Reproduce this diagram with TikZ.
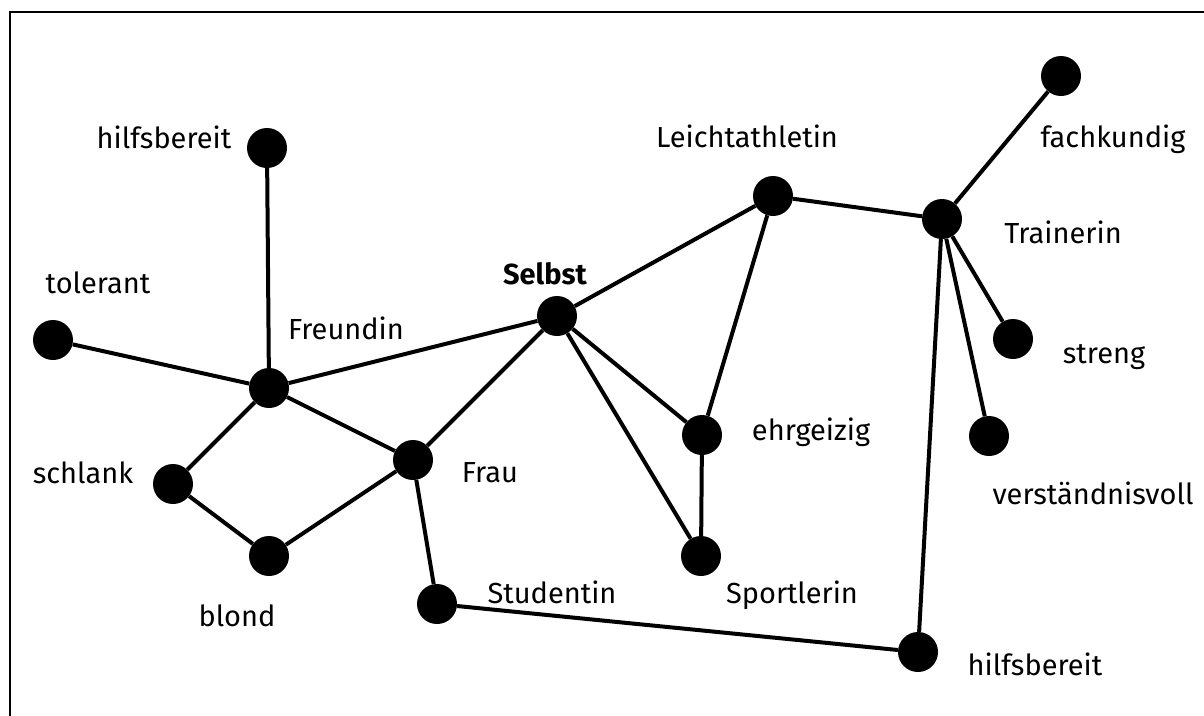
\documentclass[tikz,border=0pt]{standalone}
\usepackage{fontspec}
\setmainfont{Fira Sans}
\usetikzlibrary{positioning}

\begin{document}
\begin{tikzpicture}[
  x=1pt, y=-1pt,
  dot/.style={circle, fill=black, inner sep=0pt, minimum size=40pt},
  word/.style={anchor=base, inner sep=0pt, font=\fontsize{29}{34}\selectfont},
  edge/.style={line width=4pt}
]
\useasboundingbox (0,0) rectangle (1204,715);
\clip (0,0) rectangle (1204,715);
\draw[line width=2pt] (10,12) rectangle (1230,740);

% the points
\node[dot] (hilfsA)     at (267,148) {};
\node[dot] (tolerant)   at (53,340)  {};
\node[dot] (freundin)   at (269,388) {};
\node[dot] (schlank)    at (173,484) {};
\node[dot] (blond)      at (269,556) {};
\node[dot] (frau)       at (413,460) {};
\node[dot] (studentin)  at (437,604) {};
\node[dot] (selbst)     at (557,316) {};
\node[dot] (ehrgeizig)  at (702,435) {};
\node[dot] (sportlerin) at (701,556) {};
\node[dot] (leicht)     at (773,196) {};
\node[dot] (trainerin)  at (942,219) {};
\node[dot] (fachkundig) at (1061,76) {};
\node[dot] (streng)     at (1013,339) {};
\node[dot] (verstaend)  at (989,436) {};
\node[dot] (hilfsB)     at (918,652) {};

% the words
\node[word] (t-hilfsA)     at (164,148)  {hilfsbereit};
\node[word] (t-tolerant)   at (98,293)   {tolerant};
\node[word] (t-freundin)   at (346,339)  {Freundin};
\node[word] (t-schlank)    at (83,483)   {schlank};
\node[word] (t-blond)      at (237,626)  {blond};
\node[word] (t-frau)       at (490,482)  {Frau};
\node[word] (t-studentin)  at (552,603)  {Studentin};
\node[word] (t-selbst)     at (545,284)  {\bfseries Selbst};
\node[word] (t-ehrgeizig)  at (811,440)  {ehrgeizig};
\node[word] (t-sportlerin) at (792,603)  {Sportlerin};
\node[word] (t-leicht)     at (747,147)  {Leichtathletin};
\node[word] (t-fachkundig) at (1113,147) {fachkundig};
\node[word] (t-trainerin)  at (1063,243) {Trainerin};
\node[word] (t-streng)     at (1104,363) {streng};
\node[word] (t-verstaend)  at (1093,504) {verständnisvoll};
\node[word] (t-hilfsB)     at (1035,675) {hilfsbereit};

% the links
\draw[edge] (hilfsA) -- (freundin);
\draw[edge] (tolerant) -- (freundin);
\draw[edge] (freundin) -- (selbst);
\draw[edge] (freundin) -- (schlank);
\draw[edge] (freundin) -- (frau);
\draw[edge] (schlank) -- (blond);
\draw[edge] (blond) -- (frau);
\draw[edge] (frau) -- (selbst);
\draw[edge] (frau) -- (studentin);
\draw[edge] (studentin) -- (hilfsB);
\draw[edge] (selbst) -- (leicht);
\draw[edge] (selbst) -- (ehrgeizig);
\draw[edge] (selbst) -- (sportlerin);
\draw[edge] (ehrgeizig) -- (sportlerin);
\draw[edge] (ehrgeizig) -- (leicht);
\draw[edge] (leicht) -- (trainerin);
\draw[edge] (trainerin) -- (fachkundig);
\draw[edge] (trainerin) -- (streng);
\draw[edge] (trainerin) -- (verstaend);
\draw[edge] (trainerin) -- (hilfsB);

\end{tikzpicture}
\end{document}
